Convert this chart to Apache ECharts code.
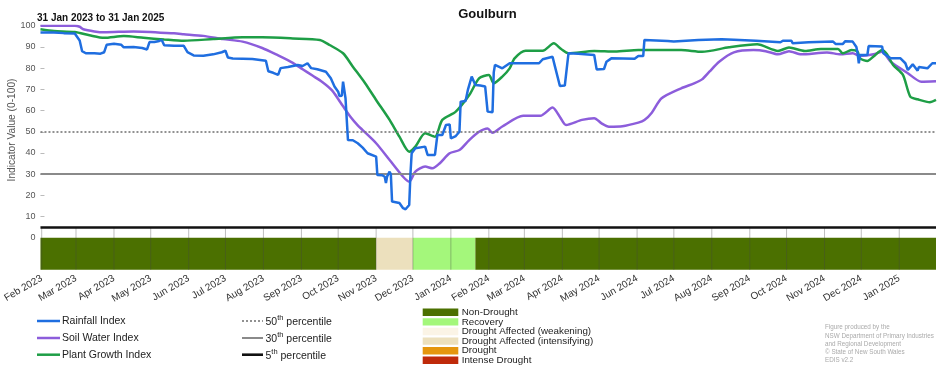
<!DOCTYPE html>
<html>
<head>
<meta charset="utf-8">
<script src="https://cdn.jsdelivr.net/npm/echarts@6/dist/echarts.min.js"></script>
<style>
html,body{margin:0;padding:0;background:#fff;}
#chart{width:952px;height:370px;}
</style>
</head>
<body>
<div id="chart"></div>
<script>
// ---------------- DATA ----------------
const chartTitle = 'Goulburn';
const periodText = '31 Jan 2023 to 31 Jan 2025';
const yAxisTitle = 'Indicator Value (0-100)';
const xStart = '2023-01-31';
const xEnd = '2025-01-31';

const rainfall = [
['2023-01-31',96.8],['2023-02-11',96.8],['2023-02-19',96.5],['2023-02-28',96.3],['2023-03-01',95.5],['2023-03-04',93],['2023-03-06',88],['2023-03-09',87],['2023-03-16',87],['2023-03-21',86.8],['2023-03-24',87.5],['2023-03-26',91],['2023-04-01',91.5],['2023-04-07',91],['2023-04-09',89.8],['2023-04-17',90],['2023-04-24',89.5],['2023-04-28',88.8],['2023-04-30',92.3],['2023-05-04',92.3],['2023-05-08',92.8],['2023-05-10',93.3],['2023-05-12',90.8],['2023-05-20',90.5],['2023-05-28',90.5],['2023-05-31',87.5],['2023-06-05',86],['2023-06-13',85.8],['2023-06-21',86.5],['2023-06-28',87.5],['2023-07-01',88.2],['2023-07-03',85],['2023-07-07',84.5],['2023-07-23',84.3],['2023-08-03',83.5],['2023-08-05',78.5],['2023-08-09',77.8],['2023-08-13',76.8],['2023-08-15',80],['2023-08-21',80.5],['2023-08-29',81.5],['2023-09-02',81],['2023-09-06',82.3],['2023-09-09',80],['2023-09-14',79.5],['2023-09-21',78.3],['2023-09-25',75.2],['2023-09-28',71.3],['2023-10-01',68.9],['2023-10-02',66.9],['2023-10-04',67],['2023-10-05',73.6],['2023-10-07',65.8],['2023-10-08',56],['2023-10-09',46.1],['2023-10-13',46],['2023-10-17',44.6],['2023-10-21',42.5],['2023-10-25',39.9],['2023-11-01',38.3],['2023-11-02',29.6],['2023-11-06',29.5],['2023-11-08',28.8],['2023-11-09',25.9],['2023-11-10',29],['2023-11-12',31.2],['2023-11-13',30],['2023-11-14',17.1],['2023-11-20',16.4],['2023-11-23',14],['2023-11-25',13.5],['2023-11-28',15.5],['2023-11-29',30],['2023-11-30',39.9],['2023-12-03',42.2],['2023-12-11',43],['2023-12-13',39.1],['2023-12-19',39.1],['2023-12-21',48.5],['2023-12-25',48.5],['2023-12-28',53.2],['2023-12-31',53.5],['2024-01-01',46.9],['2024-01-05',48],['2024-01-08',50],['2024-01-09',64.2],['2024-01-13',64.5],['2024-01-15',70],['2024-01-18',76],['2024-01-21',72.1],['2024-01-25',71.8],['2024-01-29',71.3],['2024-01-31',59.5],['2024-02-04',59.2],['2024-02-05',78],['2024-02-06',81.5],['2024-02-12',79.9],['2024-02-18',82.3],['2024-03-13',82.3],['2024-03-14',81.5],['2024-03-16',84.2],['2024-03-24',85.4],['2024-03-26',80.7],['2024-03-30',71.6],['2024-04-03',71.8],['2024-04-06',87],['2024-04-14',86.8],['2024-04-27',86.2],['2024-04-29',79.4],['2024-05-05',79.6],['2024-05-07',83],['2024-05-11',84.6],['2024-05-30',84.4],['2024-06-02',85.7],['2024-06-06',85.7],['2024-06-07',93.3],['2024-06-26',92.8],['2024-07-01',92.5],['2024-07-21',93.3],['2024-08-09',93.6],['2024-08-19',93.4],['2024-09-06',92.9],['2024-09-07',92.2],['2024-09-26',92.2],['2024-09-28',92.9],['2024-10-05',92.9],['2024-10-06',91.7],['2024-10-19',92.2],['2024-10-20',92.9],['2024-11-08',92.5],['2024-11-10',91.4],['2024-11-16',91.4],['2024-11-18',92.7],['2024-11-24',92.5],['2024-11-27',90],['2024-11-28',87],['2024-11-29',82.3],['2024-11-30',86.2],['2024-12-06',86.2],['2024-12-07',90.4],['2024-12-18',90.2],['2024-12-19',87],['2024-12-25',84.6],['2025-01-02',84.6],['2025-01-06',82.3],['2025-01-08',79.1],['2025-01-12',81.8],['2025-01-16',78.8],['2025-01-17',80.5],['2025-01-24',79.9],['2025-01-28',82.3],['2025-01-31',82.3]
];

const soilWater = [
['2023-01-31',100],['2023-02-28',100],['2023-03-04',99.5],['2023-03-07',98.3],['2023-03-16',97.3],['2023-03-24',96.9],['2023-04-17',97.3],['2023-05-20',96.4],['2023-05-28',96],['2023-06-13',95.2],['2023-06-29',93.7],['2023-07-15',92.5],['2023-07-31',89.5],['2023-08-13',86],['2023-08-25',82.5],['2023-09-02',79.5],['2023-09-10',76.5],['2023-09-18',73.5],['2023-09-26',69.5],['2023-10-05',62],['2023-10-11',57.1],['2023-10-17',53],['2023-10-21',50.8],['2023-11-01',44.6],['2023-11-12',36.7],['2023-11-23',28.8],['2023-11-28',26.5],['2023-12-03',31.2],['2023-12-11',33.6],['2023-12-17',32.8],['2023-12-23',35.2],['2023-12-31',39.9],['2024-01-08',41.4],['2024-01-16',46.1],['2024-01-24',50],['2024-01-31',51.6],['2024-02-04',49.5],['2024-02-12',52.5],['2024-02-29',57.5],['2024-03-14',57.5],['2024-03-24',61.4],['2024-03-30',57],['2024-04-04',53.2],['2024-04-17',55.6],['2024-04-27',56.4],['2024-05-03',54],['2024-05-09',52.4],['2024-05-20',52.6],['2024-06-02',54.3],['2024-06-07',55.5],['2024-06-13',59],['2024-06-21',65.8],['2024-07-07',70.5],['2024-07-18',72.9],['2024-07-24',74.7],['2024-07-30',78.3],['2024-08-07',83],['2024-08-19',87.4],['2024-09-04',88.5],['2024-09-14',88],['2024-09-24',86.5],['2024-10-03',88],['2024-10-13',86.5],['2024-11-03',87.4],['2024-11-14',86.5],['2024-11-24',87],['2024-11-30',85.7],['2024-12-11',86.5],['2024-12-18',87.7],['2024-12-25',83],['2025-01-08',77.6],['2025-01-19',73.6],['2025-01-31',73.8]
];

const plantGrowth = [
['2023-01-31',98.3],['2023-02-11',97.5],['2023-02-28',97],['2023-03-12',95.5],['2023-03-24',94.3],['2023-04-09',95.1],['2023-04-25',94.3],['2023-05-12',93.5],['2023-05-28',92.9],['2023-06-21',93.7],['2023-07-15',94.5],['2023-07-31',94.5],['2023-08-25',94],['2023-09-16',93.3],['2023-09-24',90.9],['2023-10-05',87],['2023-10-13',80.7],['2023-10-23',72.9],['2023-11-01',65],['2023-11-12',55.6],['2023-11-20',47.7],['2023-11-28',40.6],['2023-12-03',43],['2023-12-11',49.3],['2023-12-19',47.7],['2023-12-25',55.6],['2024-01-05',59.5],['2024-01-16',67.3],['2024-01-24',75.2],['2024-02-01',76.8],['2024-02-05',72.9],['2024-02-12',76],['2024-02-18',79.9],['2024-02-22',84.6],['2024-03-02',88.2],['2024-03-16',88.2],['2024-03-25',91.7],['2024-03-31',89],['2024-04-06',87],['2024-04-27',88.1],['2024-05-14',87.8],['2024-06-02',88.5],['2024-07-07',88.5],['2024-07-24',87.7],['2024-08-15',89.8],['2024-09-07',91.2],['2024-09-24',88.1],['2024-10-03',89.7],['2024-10-16',88.1],['2024-10-29',89],['2024-11-12',89],['2024-11-16',87],['2024-11-23',88.5],['2024-11-28',87.8],['2024-11-30',84.6],['2024-12-06',83.4],['2024-12-11',85.5],['2024-12-18',88.5],['2024-12-22',86.5],['2024-12-27',81.5],['2025-01-04',76.8],['2025-01-10',66.6],['2025-01-16',65.3],['2025-01-26',63.9],['2025-01-31',65]
];

const seriesNames = ['Rainfall Index','Soil Water Index','Plant Growth Index'];

const monthTicks = ['2023-02-01','2023-03-01','2023-04-01','2023-05-01','2023-06-01','2023-07-01','2023-08-01','2023-09-01','2023-10-01','2023-11-01','2023-12-01','2024-01-01','2024-02-01','2024-03-01','2024-04-01','2024-05-01','2024-06-01','2024-07-01','2024-08-01','2024-09-01','2024-10-01','2024-11-01','2024-12-01','2025-01-01'];
const monthNames = ['Jan','Feb','Mar','Apr','May','Jun','Jul','Aug','Sep','Oct','Nov','Dec'];

const yTickLabels = [0,10,20,30,40,50,60,70,80,90,100];
const yMin = -15, yMax = 100;

const percentileValues = [50,30,5];
const percentileOrdinals = ['50','30','5'];

const droughtStart = ['2023-01-31','2023-11-01','2023-12-01','2024-01-21'];
const droughtEnd   = ['2023-11-01','2023-12-01','2024-01-21','2025-01-31'];
const droughtState = ['Non-Drought','Drought Affected (intensifying)','Recovery','Non-Drought'];
const bandTop = 0, bandBottom = -15, tickLineTop = 5;

const droughtCategories = ['Non-Drought','Recovery','Drought Affected (weakening)','Drought Affected (intensifying)','Drought','Intense Drought'];

const creditLines = ['Figure produced by the','NSW Department of Primary Industries','and Regional Development','\u00a9 State of New South Wales','EDIS v2.2'];

// ---------------- STYLE ----------------
const lineColors = ['#1f6ee0','#8c5ddb','#1e9e46'];
const droughtColors = {
  'Non-Drought':'#4b7000',
  'Recovery':'#a4f77b',
  'Drought Affected (weakening)':'#fbf4e6',
  'Drought Affected (intensifying)':'#ece0bd',
  'Drought':'#e5960d',
  'Intense Drought':'#bf2a0a'
};
const pctStyles = [
  {color:'#777', width:1.6, type:[2,2]},
  {color:'#8a8a8a', width:2, type:'solid'},
  {color:'#111', width:2.6, type:'solid'}
];
const FONT = '"Liberation Sans", Arial, sans-serif';

function parseD(s){ const p = s.split('-'); return new Date(+p[0], +p[1]-1, +p[2]).getTime(); }
function toTs(arr){ return arr.map(d => [parseD(d[0]), d[1]]); }
const monthTickTs = monthTicks.map(parseD);

const chart = echarts.init(document.getElementById('chart'), null, {renderer:'canvas'});

const bandData = droughtStart.map((s,i)=>[parseD(s), parseD(droughtEnd[i]), i]);

const graphics = [];
graphics.push({type:'text', x:487.5, y:14, style:{text:chartTitle, font:'bold 13px '+FONT, fill:'#111', align:'center', verticalAlign:'middle'}});
graphics.push({type:'text', x:37, y:18.5, style:{text:periodText, font:'bold 10px '+FONT, fill:'#111', align:'left', verticalAlign:'middle'}});
graphics.push({type:'text', x:12, y:130, rotation:Math.PI/2, style:{text:yAxisTitle, font:'10.2px '+FONT, fill:'#555', align:'center', verticalAlign:'middle'}});

const legRows = [321, 338, 354.7];
seriesNames.forEach((n,i)=>{
  graphics.push({type:'line', shape:{x1:37,y1:legRows[i],x2:60,y2:legRows[i]}, style:{stroke:lineColors[i], lineWidth:2.5}});
  graphics.push({type:'text', x:62, y:legRows[i], style:{text:n, font:'10.5px '+FONT, fill:'#222', align:'left', verticalAlign:'middle'}});
});
percentileValues.forEach((v,i)=>{
  const st = pctStyles[i];
  graphics.push({type:'line', shape:{x1:242,y1:legRows[i],x2:263,y2:legRows[i]}, style:{stroke:st.color, lineWidth:st.width, lineDash: st.type==='solid'?null:st.type}});
  graphics.push({type:'text', x:265.5, y:legRows[i], style:{
    text:'{n|'+percentileOrdinals[i]+'}{s|th}{n| percentile}',
    align:'left', verticalAlign:'middle',
    rich:{
      n:{font:'10.5px '+FONT, fill:'#222', lineHeight:14, verticalAlign:'bottom'},
      s:{font:'7.5px '+FONT, fill:'#222', lineHeight:14, verticalAlign:'top'}
    }
  }});
});
droughtCategories.forEach((c,i)=>{
  const cy = 312.3 + i*9.6;
  graphics.push({type:'rect', shape:{x:422.7, y:cy-3.7, width:35.6, height:7.4}, style:{fill:droughtColors[c]}});
  graphics.push({type:'text', x:461.7, y:cy, style:{text:c, font:'9.8px '+FONT, fill:'#222', align:'left', verticalAlign:'middle'}});
});
creditLines.forEach((t,i)=>{
  graphics.push({type:'text', x:825, y:327.5+i*8.3, style:{text:t, font:'6.3px '+FONT, fill:'#aaa', align:'left', verticalAlign:'middle'}});
});

const option = {
  animation:false,
  backgroundColor:'#fff',
  grid:{left:37, right:16, top:25.7, bottom:100.3, containLabel:false},
  xAxis:{
    type:'value', min:parseD(xStart), max:parseD(xEnd),
    axisLine:{show:false},
    axisTick:{show:false},
    splitLine:{show:false},
    axisLabel:{
      customValues: monthTickTs,
      rotate:30, margin:8,
      color:'#333', fontFamily:FONT, fontSize:10,
      formatter:function(v){ const d=new Date(v); return monthNames[d.getMonth()]+' '+d.getFullYear(); }
    }
  },
  yAxis:{
    type:'value', min:yMin, max:yMax,
    axisLine:{show:false},
    splitLine:{show:false},
    axisTick:{show:true, inside:true, length:4, customValues: yTickLabels.filter(v=>v>0), lineStyle:{color:'#bbb'}},
    axisLabel:{customValues: yTickLabels, color:'#555', fontFamily:FONT, fontSize:9, margin:5}
  },
  graphic: graphics,
  series:[
    {
      type:'custom', name:'Drought band', silent:true, z:1,
      data: bandData,
      renderItem:function(params, api){
        const p1 = api.coord([api.value(0), bandTop]);
        const p2 = api.coord([api.value(1), bandBottom]);
        const st = droughtState[api.value(2)];
        return {type:'rect', shape:{x:p1[0], y:p1[1], width:p2[0]-p1[0], height:p2[1]-p1[1]}, style:{fill:droughtColors[st]}};
      }
    },
    {
      type:'custom', name:'Month lines', silent:true, z:2,
      data: monthTickTs.map(t=>[t]),
      renderItem:function(params, api){
        const a = api.coord([api.value(0), tickLineTop]);
        const b = api.coord([api.value(0), bandBottom]);
        return {type:'line', shape:{x1:a[0], y1:a[1], x2:b[0], y2:b[1]}, style:{stroke:'rgba(70,70,70,0.35)', lineWidth:1}};
      }
    },
    {
      type:'line', name:seriesNames[0], data:toTs(rainfall), showSymbol:false, z:5,
      lineStyle:{color:lineColors[0], width:2.5}, itemStyle:{color:lineColors[0]},
      markLine:{
        silent:true, symbol:['none','none'], label:{show:false},
        data: percentileValues.map((v,i)=>({yAxis:v, lineStyle:{color:pctStyles[i].color, width:pctStyles[i].width, type:pctStyles[i].type}}))
      }
    },
    {
      type:'line', name:seriesNames[1], data:toTs(soilWater), showSymbol:false, smooth:0.25, z:4,
      lineStyle:{color:lineColors[1], width:2.5}, itemStyle:{color:lineColors[1]}
    },
    {
      type:'line', name:seriesNames[2], data:toTs(plantGrowth), showSymbol:false, smooth:0.25, z:4,
      lineStyle:{color:lineColors[2], width:2.5}, itemStyle:{color:lineColors[2]}
    }
  ]
};
chart.setOption(option);
</script>
</body>
</html>
